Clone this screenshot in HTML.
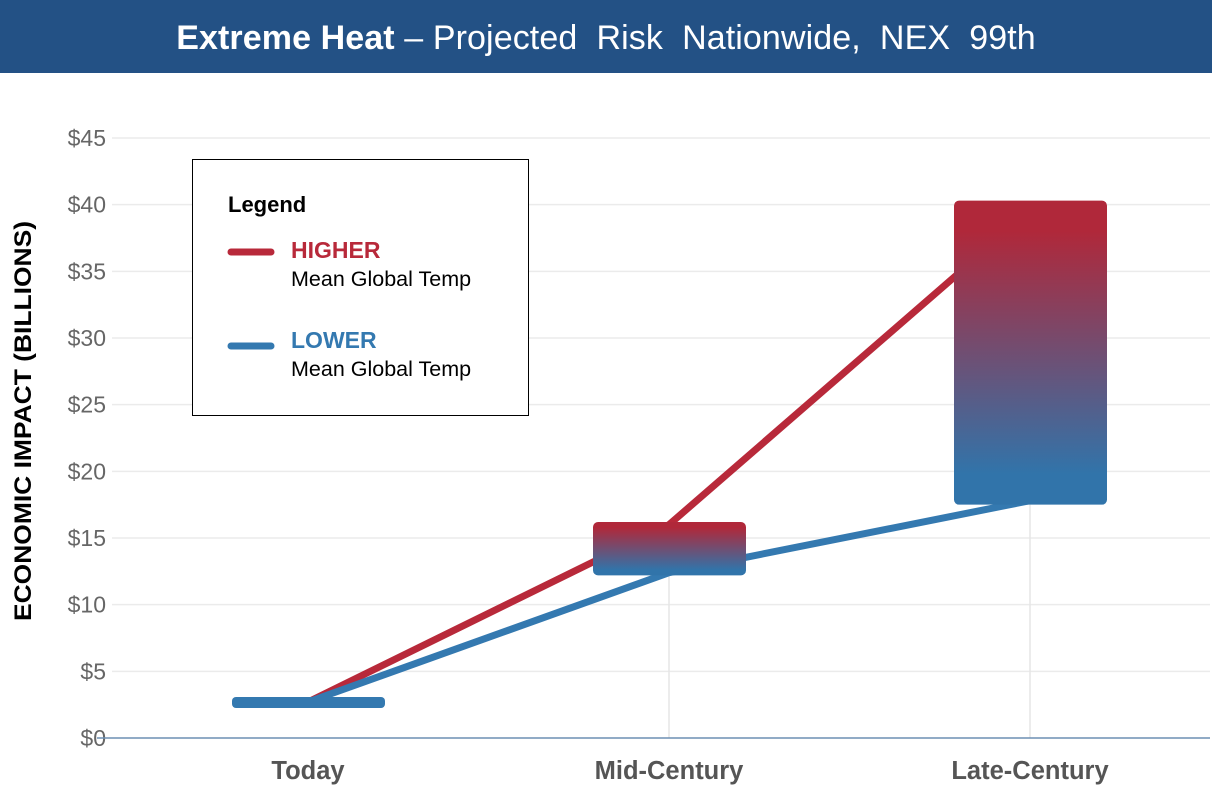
<!DOCTYPE html>
<html><head><meta charset="utf-8"><style>
body{margin:0;background:#fff;font-family:"Liberation Sans",sans-serif}
#hdr{position:absolute;left:0;top:0;width:1212px;height:73px;background:#235185;color:#fff;font-size:34px;text-align:center;line-height:76px;letter-spacing:0.1px}
svg{position:absolute;left:0;top:0}
</style></head><body>
<div id="hdr"><b>Extreme Heat</b> – Projected&nbsp; Risk&nbsp; Nationwide,&nbsp; NEX&nbsp; 99th</div>
<svg id="c" width="1212" height="796">
<defs><linearGradient id="g" x1="0" y1="0" x2="0" y2="1"><stop offset="0.1" stop-color="#b0283a"/><stop offset="0.9" stop-color="#3174aa"/></linearGradient></defs>
</svg>
<script>
const categories=["Today","Mid-Century","Late-Century"];
const higher=[2.7,16,39.5];
const lower=[2.7,12.4,17.8];
const rangeTop=[2.7,16.2,40.3];
const rangeBottom=[2.7,12.2,17.5];
const yTicks=[0,5,10,15,20,25,30,35,40,45];
const svg=document.getElementById('c'),NS='http://www.w3.org/2000/svg';
const y=v=>738-v*600/45, x=i=>308+i*361;
function mk(t,a,p){const e=document.createElementNS(NS,t);for(const k in a)e.setAttribute(k,a[k]);(p||svg).appendChild(e);return e;}
yTicks.forEach(t=>{
 if(t>0){const l=mk('line',{x1:112,x2:1210,y1:y(t),y2:y(t),stroke:'#ebebeb','stroke-width':1.5});
 
 }
 const tx=mk('text',{x:106,y:y(t)+8,'text-anchor':'end','font-size':23,fill:'#666'});tx.textContent='$'+t;
 
 
});
categories.forEach((c,i)=>{
 if(i>0){const l=mk('line',{x1:x(i),x2:x(i),y1:y(rangeBottom[i]),y2:738,stroke:'#e6e6e6','stroke-width':1.5});
 
 }
 const t=mk('text',{x:x(i),y:779,'text-anchor':'middle','font-size':25.5,'font-weight':'bold',fill:'#555'});t.textContent=c;
 
 
});
const ax=mk('line',{x1:97,x2:1210,y1:738,y2:738,stroke:'#6d8fb3','stroke-width':1.5});


const yt=mk('text',{x:0,y:0,'text-anchor':'middle','font-size':24,'font-weight':'bold',fill:'#000',textLength:400,lengthAdjust:'spacingAndGlyphs',transform:'translate(31,421) rotate(-90)'});yt.textContent='ECONOMIC IMPACT (BILLIONS)';


function line(vals,col,name){const l=mk('polyline',{points:vals.map((v,i)=>x(i)+','+y(v)).join(' '),fill:'none',stroke:col,'stroke-width':7});
 
 }
line(higher,'#b8293a','higher-line');
line(lower,'#3479b0','lower-line');
categories.forEach((c,i)=>{
 const t=y(rangeTop[i]),b=y(rangeBottom[i]);
 if(i===0){const r=mk('rect',{x:232,y:t-5,width:153,height:11,rx:4,fill:'#3479b0'});
  
  }
 else{const r=mk('rect',{x:x(i)-76,y:t,width:153,height:b-t,rx:5,fill:'url(#g)'});
  
  }
});
</script>
<svg width="1212" height="796" style="pointer-events:none">
<rect x="192.5" y="159.5" width="336" height="256" fill="#fff" stroke="#000" stroke-width="1"/>
<text x="228" y="212" font-size="22" font-weight="bold" fill="#000">Legend</text>
<line x1="231" y1="252" x2="271" y2="252" stroke="#b8293a" stroke-width="7" stroke-linecap="round"/>
<text x="291" y="258" font-size="23" font-weight="bold" fill="#b8293a">HIGHER</text>
<text x="291" y="286" font-size="21.5" fill="#000">Mean Global Temp</text>
<line x1="231" y1="346" x2="271" y2="346" stroke="#3479b0" stroke-width="7" stroke-linecap="round"/>
<text x="291" y="348" font-size="23" font-weight="bold" fill="#3479b0">LOWER</text>
<text x="291" y="376" font-size="21.5" fill="#000">Mean Global Temp</text>
</svg>
</body></html>
